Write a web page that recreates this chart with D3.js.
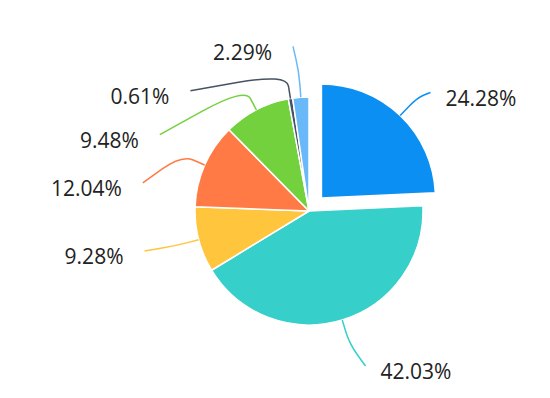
<!DOCTYPE html>
<html>
<head>
<meta charset="utf-8">
<script src="https://cdn.jsdelivr.net/npm/d3@7"></script>
<style>
  body { margin: 0; background: #fff; }
  text { font-family: "Open Sans", "Noto Sans", sans-serif; }
</style>
</head>
<body>
<svg id="chart" width="550" height="398"></svg>
<script>
// slice values in percent, clockwise from 12 o'clock
var values = [24.28, 42.03, 9.28, 12.04, 9.48, 0.61, 2.29];
var colors = ["#0c8ff3", "#36cfc9", "#ffc53d", "#ff7a45", "#73d13d", "#475262", "#69b9f9"];
var exploded = [true, false, false, false, false, false, false];
// where each label line ends, relative to its elbow point
var labelShift = [[13, -5], [16, 22], [-30, 5], [-39, 28], [-85, 47], [-96, 17], [-6, -26]];

var width = 550, height = 398,
    cx = 309, cy = 211,
    radius = 114,
    explode = 18,
    len1 = 25;

var svg = d3.select("#chart");
var g = svg.append("g").attr("transform", "translate(" + cx + "," + cy + ")");

var pie = d3.pie().sort(null).value(function(d) { return d; });
var arcs = pie(values);

var arc = d3.arc().innerRadius(0).outerRadius(radius);

function offset(d, i) {
  if (!exploded[i]) return [0, 0];
  var a = (d.startAngle + d.endAngle) / 2;
  return [Math.sin(a) * explode, -Math.cos(a) * explode];
}

function pointAt(d, i, r) {
  var a = (d.startAngle + d.endAngle) / 2,
      o = offset(d, i);
  return [o[0] + Math.sin(a) * r, o[1] - Math.cos(a) * r];
}

g.selectAll("path.slice")
  .data(arcs)
  .enter().append("path")
  .attr("class", "slice")
  .attr("d", arc)
  .attr("transform", function(d, i) {
    var o = offset(d, i);
    return "translate(" + o[0] + "," + o[1] + ")";
  })
  .attr("fill", function(d, i) { return colors[i]; })
  .attr("stroke", "#fff")
  .attr("stroke-width", 1.5)
  .attr("stroke-linejoin", "round");

// label lines: straight segments with a rounded elbow
function leader(d, i) {
  var A = pointAt(d, i, radius),
      B = pointAt(d, i, radius + len1),
      C = [B[0] + labelShift[i][0], B[1] + labelShift[i][1]],
      t = 0.5;
  var p = d3.path();
  p.moveTo(A[0], A[1]);
  p.lineTo(B[0] + (A[0] - B[0]) * t, B[1] + (A[1] - B[1]) * t);
  p.quadraticCurveTo(B[0], B[1], B[0] + (C[0] - B[0]) * t, B[1] + (C[1] - B[1]) * t);
  p.lineTo(C[0], C[1]);
  return p.toString();
}

function labelEnd(d, i) {
  var B = pointAt(d, i, radius + len1);
  return [B[0] + labelShift[i][0], B[1] + labelShift[i][1]];
}

function isRight(d) {
  return (d.startAngle + d.endAngle) / 2 < Math.PI;
}

g.selectAll("path.leader")
  .data(arcs)
  .enter().append("path")
  .attr("class", "leader")
  .attr("d", leader)
  .attr("fill", "none")
  .attr("stroke", function(d, i) { return colors[i]; })
  .attr("stroke-width", 1.5);

g.selectAll("text.label")
  .data(arcs)
  .enter().append("text")
  .attr("class", "label")
  .attr("x", function(d, i) { return labelEnd(d, i)[0] + (isRight(d) ? 15 : -21); })
  .attr("y", function(d, i) { return labelEnd(d, i)[1] + 6; })
  .attr("dy", "0.35em")
  .attr("text-anchor", function(d) { return isRight(d) ? "start" : "end"; })
  .attr("font-size", 21)
  .attr("fill", "#222")
  .text(function(d) { return d3.format(".2f")(d.value) + "%"; });
</script>
</body>
</html>
